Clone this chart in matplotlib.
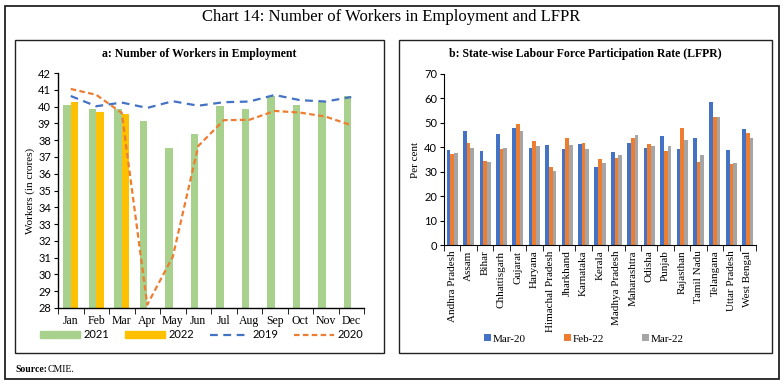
import numpy as np
import matplotlib
matplotlib.use('Agg')
import matplotlib.pyplot as plt
from matplotlib.patches import Rectangle
from matplotlib.lines import Line2D

W, H = 784, 386

# Panel a: workers in employment (crore)
months = ['Jan', 'Feb', 'Mar', 'Apr', 'May', 'Jun', 'Jul', 'Aug', 'Sep', 'Oct', 'Nov', 'Dec']
w2021 = [40.10, 39.84, 39.84, 39.13, 37.55, 38.35, 40.02, 39.84, 40.63, 40.12, 40.28, 40.63]
w2022 = [40.27, 39.68, 39.56]
w2019 = [40.63, 40.02, 40.24, 39.92, 40.32, 40.05, 40.26, 40.30, 40.69, 40.38, 40.30, 40.57]
w2020 = [41.05, 40.70, 39.62, 28.20, 31.05, 37.65, 39.19, 39.21, 39.74, 39.64, 39.40, 38.89]

# Panel b: state-wise LFPR (per cent)
states = ['Andhra Pradesh', 'Assam', 'Bihar', 'Chhattisgarh', 'Gujarat', 'Haryana',
          'Himachal Pradesh', 'Jharkhand', 'Karnataka', 'Kerala', 'Madhya Pradesh',
          'Maharashtra', 'Odisha', 'Punjab', 'Rajasthan', 'Tamil Nadu', 'Telangana',
          'Uttar Pradesh', 'West Bengal']
mar20 = [39.0, 46.8, 38.5, 45.5, 47.9, 39.6, 41.0, 39.2, 41.2, 31.8, 38.1, 41.8,
         39.6, 44.7, 39.5, 44.0, 58.6, 38.8, 47.3]
feb22 = [37.4, 41.8, 34.4, 39.4, 49.5, 42.4, 32.1, 43.6, 41.8, 35.1, 35.7, 44.0,
         41.3, 38.3, 47.7, 33.9, 52.6, 33.0, 45.7]
mar22 = [37.7, 39.9, 33.9, 39.8, 46.6, 40.6, 30.4, 40.9, 39.2, 33.5, 37.0, 45.0,
         40.7, 40.7, 42.9, 36.8, 52.6, 33.7, 44.0]

serif = ['Liberation Serif', 'DejaVu Serif']
sans = ['Lato', 'DejaVu Sans']


def px_axes(fig, x0, y0, x1, y1):
    # pixel box (top-left origin) -> figure axes
    return fig.add_axes([x0 / W, (H - y1) / H, (x1 - x0) / W, (y1 - y0) / H])


def frame(fig, x0, y0, x1, y1, lw=1.0):
    fig.add_artist(Rectangle((x0 / W, (H - y1) / H), (x1 - x0) / W, (y1 - y0) / H,
                             transform=fig.transFigure, fill=False, ec='#222222', lw=lw))


fig = plt.figure(figsize=(W / 100, H / 100), dpi=100)
fig.patch.set_facecolor('white')

frame(fig, 4.5, 6, 779, 379, lw=1.3)
frame(fig, 15, 40, 384, 353)
frame(fig, 399, 40, 772, 353)

fig.text(391 / W, 1 - 17 / H, 'Chart 14: Number of Workers in Employment and LFPR',
         ha='center', va='center', fontsize=12, family=serif)
fig.text(199.5 / W, 1 - 54 / H, 'a: Number of Workers in Employment',
         ha='center', va='center', fontsize=8.5, fontweight='bold', family=serif)
fig.text(585 / W, 1 - 54 / H, 'b: State-wise Labour Force Participation Rate (LFPR)',
         ha='center', va='center', fontsize=8.5, fontweight='bold', family=serif)
fig.text(15 / W, 1 - 369 / H, 'Source:', ha='left', va='center', fontsize=7,
         fontweight='bold', family=serif)
fig.text(48 / W, 1 - 369 / H, 'CMIE.', ha='left', va='center', fontsize=7, family=serif)

# ---- panel a
ax = px_axes(fig, 58, 73, 364, 308)
x = np.arange(len(months))
bw = 0.3
ax.bar(x - bw / 2, w2021, bw, bottom=0, color='#A9D18E', label='2021')
ax.bar(np.arange(len(w2022)) + bw / 2, w2022, bw, color='#FFC000', label='2022')
ax.plot(x, w2019, color='#4472C4', lw=1.6, dashes=(3.5, 2.5), label='2019')
ax.plot(x, w2020, color='#ED7D31', lw=1.6, dashes=(2.5, 1.5), label='2020')
ax.set_ylim(28, 42)
ax.set_xlim(-0.5, len(months) - 0.5)
ax.set_yticks(range(28, 43))
ax.set_xticks(x)
ax.set_xticklabels(months, family=serif, fontsize=8.5)
ax.set_xticks(np.arange(-0.5, len(months)), minor=True)
ax.tick_params(axis='x', which='major', length=0, pad=5)
ax.tick_params(axis='x', which='minor', length=4, direction='out')
ax.tick_params(axis='y', length=3, direction='out', labelsize=8, pad=2)
for lab in ax.get_yticklabels():
    lab.set_family(sans)
for s in ['top', 'right']:
    ax.spines[s].set_visible(False)
ax.spines['left'].set_linewidth(1.0)
ax.spines['bottom'].set_linewidth(1.0)
ax.set_ylabel('Workers (in crores)', family=serif, fontsize=8, labelpad=2)

handles = [Rectangle((0, 0), 1, 1, color='#A9D18E'), Rectangle((0, 0), 1, 1, color='#FFC000'),
           Line2D([], [], color='#4472C4', lw=1.6, dashes=(3.5, 2.5)),
           Line2D([], [], color='#ED7D31', lw=1.6, dashes=(2.5, 1.5))]
leg = fig.legend(handles, ['2021', '2022', '2019', '2020'], loc='center',
                 bbox_to_anchor=(202 / W, 1 - 335 / H), ncol=4, frameon=False,
                 handlelength=3.6, handleheight=0.5, columnspacing=1.4, handletextpad=0.3,
                 prop={'family': sans, 'size': 8})

# ---- panel b
bx = px_axes(fig, 444, 74, 756, 245)
xs = np.arange(len(states))
sw = 0.225
bx.bar(xs - sw, mar20, sw, color='#4472C4', label='Mar-20')
bx.bar(xs, feb22, sw, color='#ED7D31', label='Feb-22')
bx.bar(xs + sw, mar22, sw, color='#A5A5A5', label='Mar-22')
bx.set_ylim(0, 70)
bx.set_xlim(-0.5, len(states) - 0.5)
bx.set_yticks(range(0, 71, 10))
bx.set_xticks(xs)
bx.set_xticklabels(states, rotation=90, family=serif, fontsize=8)
bx.set_xticks(np.arange(-0.5, len(states)), minor=True)
bx.tick_params(axis='x', which='major', length=0, pad=4)
bx.tick_params(axis='x', which='minor', length=4, direction='out')
bx.tick_params(axis='y', length=3, direction='out', labelsize=8, pad=2)
for lab in bx.get_yticklabels():
    lab.set_family(sans)
for s in ['top', 'right']:
    bx.spines[s].set_visible(False)
bx.set_ylabel('Per cent', family=serif, fontsize=8, labelpad=3)

fig.legend(*bx.get_legend_handles_labels(), loc='center',
           bbox_to_anchor=(584 / W, 1 - 339 / H), ncol=3, frameon=False,
           handlelength=0.6, handleheight=0.6, columnspacing=3.4, handletextpad=0.2,
           prop={'family': serif, 'size': 8})

fig.savefig('out.png', dpi=100)
